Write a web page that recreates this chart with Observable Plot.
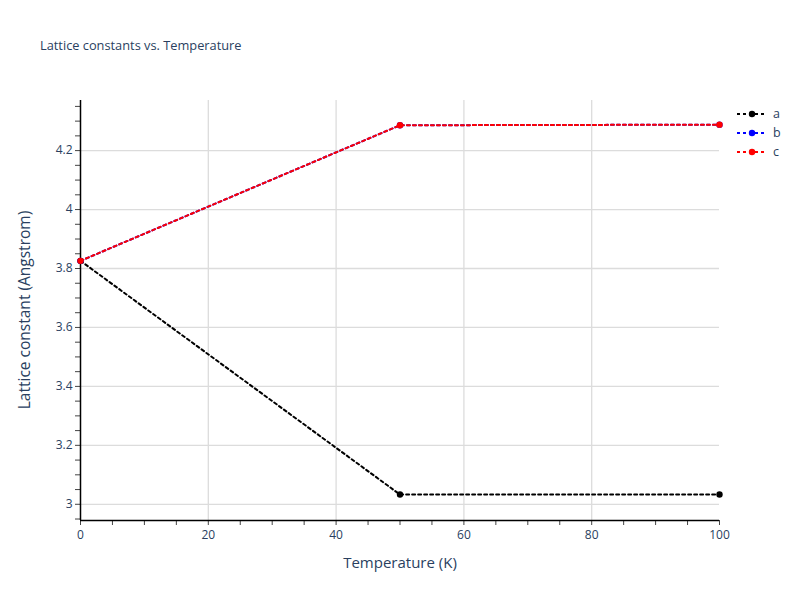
<!DOCTYPE html>
<html><head>
<meta charset="utf-8">
<script src="https://cdn.jsdelivr.net/npm/d3@7"></script>
<script src="https://cdn.jsdelivr.net/npm/@observablehq/plot@0.6"></script>
<style>
body{margin:0;background:#fff;font-family:"Open Sans",sans-serif;}
#wrap{position:relative;width:800px;height:600px;}
#wrap svg{position:absolute;left:0;top:0;}
.txt{position:absolute;color:#2a3f5f;white-space:nowrap;font-family:"Open Sans",sans-serif;}
</style>
</head><body>
<div id="wrap"></div>
<script>
const temperatures = [0, 50, 100];
const aValues = [3.826, 3.033, 3.033];
const bValues = [3.826, 4.286, 4.288];
const cValues = [3.826, 4.286, 4.288];
const seriesNames = ["a", "b", "c"];
const seriesColors = ["#000000", "#0000ff", "#ff0000"];
const xTicks = [0, 20, 40, 60, 80, 100];
const yTicks = [3, 3.2, 3.4, 3.6, 3.8, 4, 4.2];
const titleText = "Lattice constants vs. Temperature";
const xTitle = "Temperature (K)";
const yTitle = "Lattice constant (Angstrom)";

const seriesValues = [aValues, bValues, cValues];
const rows = seriesNames.flatMap((s, i) => temperatures.map((t, j) => ({series: s, t, v: seriesValues[i][j]})));

const xMinor = d3.range(0, 100.001, 5);
const yMinor = d3.range(2.95, 4.3501, 0.05).map(d => +d.toFixed(2));
const yDomain = [2.945, 4.37];

const marks = [
  Plot.gridX(xTicks.filter(d => d > 0 && d < 100), {stroke: "#dcdcdc", strokeOpacity: 1, strokeWidth: 1.3}),
  Plot.gridY(yTicks, {stroke: "#dcdcdc", strokeOpacity: 1, strokeWidth: 1.3}),
  Plot.axisX(xMinor, {tickSize: 5, tickPadding: 5, stroke: "#444", fill: "#2a3f5f", fontSize: 12,
    tickFormat: d => xTicks.includes(d) ? String(d) : "", label: null}),
  Plot.axisY(yMinor, {tickSize: 5, tickPadding: 3, stroke: "#444", fill: "#2a3f5f", fontSize: 12,
    tickFormat: d => yTicks.some(y => Math.abs(y - d) < 1e-9) ? String(d) : "", label: null}),
  Plot.ruleX([0], {y1: yDomain[0], y2: yDomain[1], stroke: "#000", strokeWidth: 1.5}),
  Plot.ruleY([yDomain[0]], {x1: 0, x2: 100, stroke: "#000", strokeWidth: 1.5})
];
seriesNames.forEach((s, i) => {
  const data = rows.filter(r => r.series === s);
  marks.push(Plot.line(data, {x: "t", y: "v", stroke: seriesColors[i], strokeWidth: 2, strokeDasharray: "3,3"}));
  marks.push(Plot.dot(data, {x: "t", y: "v", fill: seriesColors[i], r: 3.2, stroke: "none"}));
});

const chart = Plot.plot({
  width: 800, height: 600,
  marginLeft: 80, marginRight: 81, marginTop: 100, marginBottom: 80,
  x: {domain: [0, 100]},
  y: {domain: yDomain},
  style: {fontFamily: "Open Sans", fontSize: "12px", color: "#2a3f5f", background: "transparent"},
  marks
});
const wrap = document.getElementById("wrap");
wrap.appendChild(chart);

function addText(text, css) {
  const d = document.createElement("div");
  d.className = "txt";
  d.textContent = text;
  Object.assign(d.style, css);
  wrap.appendChild(d);
  return d;
}
addText(titleText, {left: "40px", top: "36px", fontSize: "12.8px"});
addText(xTitle, {left: "400px", top: "552px", fontSize: "15px", transform: "translateX(-50%)"});
addText(yTitle, {left: "24px", top: "310px", fontSize: "15.5px", transform: "translate(-50%,-50%) rotate(-90deg)"});

// legend
const ns = "http://www.w3.org/2000/svg";
seriesNames.forEach((s, i) => {
  const y = 114 + i * 19;
  const svg = document.createElementNS(ns, "svg");
  svg.setAttribute("width", 40); svg.setAttribute("height", 12);
  svg.style.left = "735px"; svg.style.top = (y - 6) + "px";
  const line = document.createElementNS(ns, "line");
  line.setAttribute("x1", 2); line.setAttribute("x2", 32); line.setAttribute("y1", 6); line.setAttribute("y2", 6);
  line.setAttribute("stroke", seriesColors[i]); line.setAttribute("stroke-width", 2); line.setAttribute("stroke-dasharray", "3,3");
  svg.appendChild(line);
  const c = document.createElementNS(ns, "circle");
  c.setAttribute("cx", 17); c.setAttribute("cy", 6); c.setAttribute("r", 3.2); c.setAttribute("fill", seriesColors[i]);
  svg.appendChild(c);
  wrap.appendChild(svg);
  addText(s, {left: "773px", top: (y - 9) + "px", fontSize: "12.5px"});
});
</script>
</body></html>
